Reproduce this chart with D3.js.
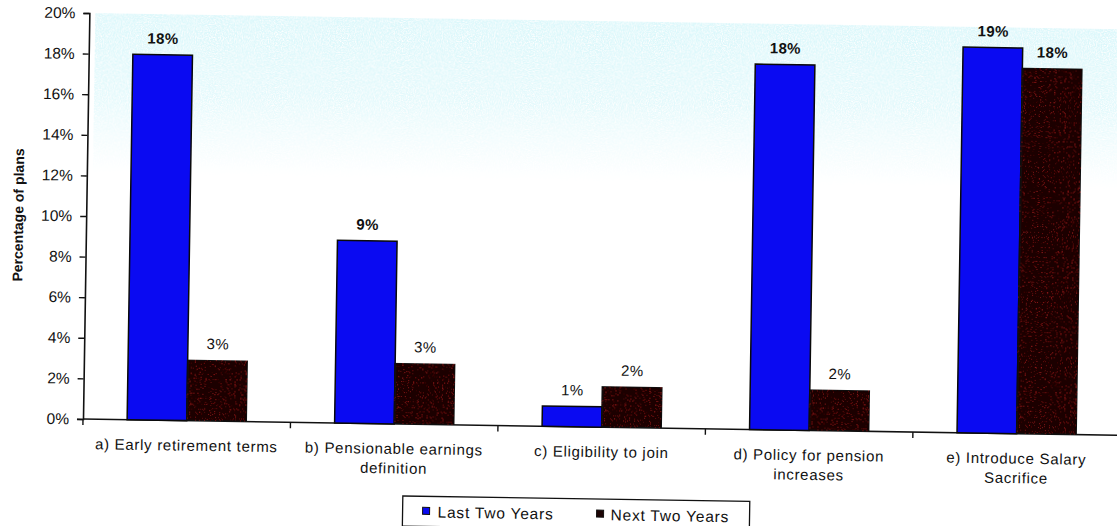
<!DOCTYPE html>
<html>
<head>
<meta charset="utf-8">
<script src="https://cdn.jsdelivr.net/npm/d3@7/dist/d3.min.js"></script>
<style>
  html, body { margin: 0; padding: 0; background: #ffffff; }
  svg { display: block; }
  text { font-family: "Liberation Sans", Arial, sans-serif; fill: #111; }
</style>
</head>
<body>
<svg id="chart" width="1117" height="526"></svg>
<script>
// Plan changes: share of plans changing each rule, past vs. upcoming two years
const categories = [
  "a) Early retirement terms",
  "b) Pensionable earnings\ndefinition",
  "c)  Eligibility to join",
  "d) Policy for pension\nincreases",
  "e) Introduce Salary\nSacrifice"
];
const seriesNames = ["Last Two Years", "Next Two Years"];
const lastTwoYears = [18, 9, 1, 18, 19];
const nextTwoYears = [3, 3, 2, 2, 18];
const yTicks = [0, 2, 4, 6, 8, 10, 12, 14, 16, 18, 20];
const yTitle = "Percentage of plans";

const colors = ["#0a0af2", "#1c0404"];

const svg = d3.select("#chart");
const defs = svg.append("defs");

// soft cyan tint across the upper plot area
const grad = defs.append("linearGradient")
  .attr("id", "tint").attr("x1", 0).attr("y1", 0).attr("x2", 0).attr("y2", 1);
grad.append("stop").attr("offset", "0%").attr("stop-color", "#b8eef5").attr("stop-opacity", 1);
grad.append("stop").attr("offset", "50%").attr("stop-color", "#c4f1f6").attr("stop-opacity", 0.75);
grad.append("stop").attr("offset", "100%").attr("stop-color", "#d8f6f8").attr("stop-opacity", 0);

const grain = defs.append("filter").attr("id", "grain")
  .attr("x", 0).attr("y", 0).attr("width", 1).attr("height", 1);
grain.append("feTurbulence").attr("type", "fractalNoise")
  .attr("baseFrequency", 0.85).attr("numOctaves", 2).attr("seed", 4).attr("result", "n");
grain.append("feColorMatrix").attr("in", "n").attr("type", "matrix")
  .attr("values", "0 0 0 0 0.70  0 0 0 0 0.93  0 0 0 0 0.96  0 0 0 2.4 -0.5")
  .attr("result", "c");
grain.append("feComposite").attr("in", "c").attr("in2", "SourceGraphic").attr("operator", "in");

// dark series speckle
const speck = defs.append("filter").attr("id", "speck")
  .attr("x", 0).attr("y", 0).attr("width", 1).attr("height", 1);
speck.append("feTurbulence").attr("type", "fractalNoise")
  .attr("baseFrequency", 1.2).attr("numOctaves", 1).attr("seed", 9).attr("result", "n");
speck.append("feColorMatrix").attr("in", "n").attr("type", "matrix")
  .attr("values", "0 0 0 0 0.50  0 0 0 0 0.02  0 0 0 0 0.02  0 0 0 3.2 -2.0")
  .attr("result", "r");
speck.append("feComposite").attr("in", "r").attr("in2", "SourceGraphic").attr("operator", "in").attr("result", "rr");
const merge = speck.append("feMerge");
merge.append("feMergeNode").attr("in", "SourceGraphic");
merge.append("feMergeNode").attr("in", "rr");

const origin = { x: 83, y: 419 };
const g = svg.append("g").attr("transform", `rotate(0.9 ${origin.x} ${origin.y})`);

const x0 = d3.scaleBand().domain(categories).range([origin.x, origin.x + 1037.5]).padding(0);
const x1 = d3.scaleBand().domain(seriesNames).range([0, x0.bandwidth()])
  .paddingInner(0).paddingOuter(0.74);
const y = d3.scaleLinear().domain([0, 20]).range([origin.y, origin.y - 406]);

// tint
g.append("rect")
  .attr("x", origin.x + 6).attr("y", y(20))
  .attr("width", 1040).attr("height", 160)
  .attr("fill", "url(#tint)")
  .attr("filter", "url(#grain)");

// y axis
const yAxis = d3.axisLeft(y).tickValues(yTicks).tickFormat(d => d + "%")
  .tickSize(6).tickPadding(8);
const yg = g.append("g").attr("transform", `translate(${origin.x},0)`).call(yAxis);
yg.select(".domain").attr("stroke", "#111").attr("stroke-width", 1.6);
yg.selectAll(".tick line").attr("stroke", "#111").attr("stroke-width", 1.4);
yg.selectAll(".tick text").attr("font-size", "15.5px").attr("fill", "#111")
  .style("font-family", '"Liberation Sans", Arial, sans-serif');

// x axis with boundary ticks
const xg = g.append("g");
xg.append("line")
  .attr("x1", origin.x).attr("x2", origin.x + 1040)
  .attr("y1", y(0)).attr("y2", y(0))
  .attr("stroke", "#111").attr("stroke-width", 1.6);
xg.selectAll("line.bt")
  .data(categories.slice(1))
  .join("line").attr("class", "bt")
  .attr("x1", d => x0(d)).attr("x2", d => x0(d))
  .attr("y1", y(0)).attr("y2", y(0) + 6)
  .attr("stroke", "#111").attr("stroke-width", 1.4);
xg.append("line")
  .attr("x1", origin.x).attr("x2", origin.x)
  .attr("y1", y(0)).attr("y2", y(0) + 6)
  .attr("stroke", "#111").attr("stroke-width", 1.4);

const catText = xg.selectAll("text.cat")
  .data(categories)
  .join("text").attr("class", "cat")
  .attr("text-anchor", "middle")
  .attr("font-size", "15px")
  .attr("letter-spacing", "0.7px")
  .attr("transform", d => `translate(${x0(d) + x0.bandwidth() / 2},${y(0) + 30})`);
catText.selectAll("tspan")
  .data(d => d.split("\n"))
  .join("tspan")
  .attr("x", 0)
  .attr("dy", (d, i) => i === 0 ? 0 : 19.5)
  .text(d => d);

// bars
const rows = categories.map((c, i) => ({
  category: c,
  values: [
    { series: seriesNames[0], value: lastTwoYears[i], k: 0 },
    { series: seriesNames[1], value: nextTwoYears[i], k: 1 }
  ]
}));

const groups = g.selectAll("g.grp")
  .data(rows)
  .join("g").attr("class", "grp")
  .attr("transform", d => `translate(${x0(d.category)},0)`);

groups.selectAll("rect")
  .data(d => d.values)
  .join("rect")
  .attr("x", d => x1(d.series))
  .attr("y", d => y(d.value))
  .attr("width", x1.bandwidth())
  .attr("height", d => y(0) - y(d.value))
  .attr("fill", d => colors[d.k])
  .attr("stroke", "#0a0a0a")
  .attr("stroke-width", 1.5)
  .attr("filter", d => d.k === 1 ? "url(#speck)" : null);

groups.selectAll("text.val")
  .data(d => d.values)
  .join("text").attr("class", "val")
  .attr("x", d => x1(d.series) + x1.bandwidth() / 2)
  .attr("y", d => y(d.value) - 11)
  .attr("text-anchor", "middle")
  .attr("font-size", "15px")
  .attr("font-weight", d => d.value >= 5 ? "bold" : "normal")
  .attr("letter-spacing", "0.4px")
  .text(d => d.value + "%");

// y title
g.append("text")
  .attr("transform", `translate(20,216) rotate(-90)`)
  .attr("text-anchor", "middle")
  .attr("font-size", "14px")
  .attr("font-weight", "bold")
  .text(yTitle);

// legend
const lg = g.append("g");
lg.append("rect")
  .attr("x", 404).attr("y", 491)
  .attr("width", 347).attr("height", 30)
  .attr("fill", "#fff").attr("stroke", "#111").attr("stroke-width", 1.3);
const legendItems = [
  { name: seriesNames[0], mx: 424, tx: 439 },
  { name: seriesNames[1], mx: 598, tx: 612 }
];
legendItems.forEach((it, i) => {
  lg.append("rect")
    .attr("x", it.mx).attr("y", 502).attr("width", 7).attr("height", 7)
    .attr("fill", colors[i]).attr("stroke", "#111").attr("stroke-width", 1);
  lg.append("text")
    .attr("x", it.tx).attr("y", 512)
    .attr("font-size", "15.5px")
    .attr("letter-spacing", "0.8px")
    .text(it.name);
});
</script>
</body>
</html>
